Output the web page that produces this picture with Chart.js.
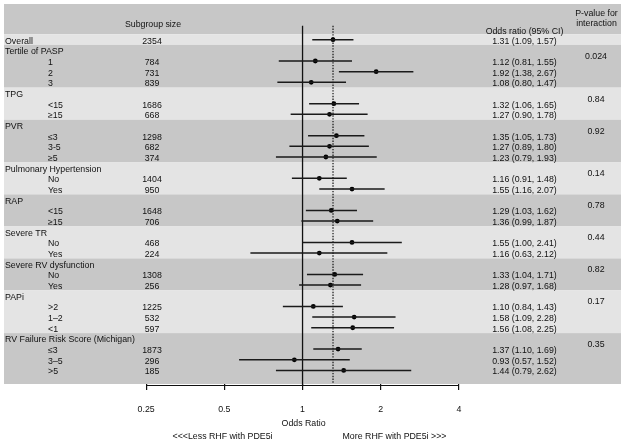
<!DOCTYPE html>
<html>
<head>
<meta charset="utf-8">
<script src="https://cdn.jsdelivr.net/npm/chart.js"></script>
<style>
  html, body { margin: 0; padding: 0; background: #fff; }
  #wrap { width: 625px; height: 445px; }
</style>
</head>
<body>
<div id="wrap"><canvas id="forest" width="625" height="445"></canvas></div>
<script>
// rows, top to bottom. indent 0 = group heading, 1 = subgroup
const rowLabels = ['Overall', 'Tertile of PASP', '1', '2', '3', 'TPG', '<15', '\u226515',
  'PVR', '\u22643', '3-5', '\u22655', 'Pulmonary Hypertension', 'No', 'Yes', 'RAP', '<15', '\u226515',
  'Severe TR', 'No', 'Yes', 'Severe RV dysfunction', 'No', 'Yes', 'PAPi', '>2', '1\u20132', '<1',
  'RV Failure Risk Score (Michigan)', '\u22643', '3\u20135', '>5'];
const rowIndent = [0, 0, 1, 1, 1, 0, 1, 1, 0, 1, 1, 1, 0, 1, 1, 0, 1, 1, 0, 1, 1, 0, 1, 1, 0, 1, 1, 1, 0, 1, 1, 1];
const subgroupSize = [2354, null, 784, 731, 839, null, 1686, 668, null, 1298, 682, 374, null, 1404, 950,
  null, 1648, 706, null, 468, 224, null, 1308, 256, null, 1225, 532, 597, null, 1873, 296, 185];
const oddsRatio = [1.31, null, 1.12, 1.92, 1.08, null, 1.32, 1.27, null, 1.35, 1.27, 1.23, null, 1.16, 1.55,
  null, 1.29, 1.36, null, 1.55, 1.16, null, 1.33, 1.28, null, 1.10, 1.58, 1.56, null, 1.37, 0.93, 1.44];
const ciLow = [1.09, null, 0.81, 1.38, 0.80, null, 1.06, 0.90, null, 1.05, 0.89, 0.79, null, 0.91, 1.16,
  null, 1.03, 0.99, null, 1.00, 0.63, null, 1.04, 0.97, null, 0.84, 1.09, 1.08, null, 1.10, 0.57, 0.79];
const ciHigh = [1.57, null, 1.55, 2.67, 1.47, null, 1.65, 1.78, null, 1.73, 1.80, 1.93, null, 1.48, 2.07,
  null, 1.62, 1.87, null, 2.41, 2.12, null, 1.71, 1.68, null, 1.43, 2.28, 2.25, null, 1.69, 1.52, 2.62];
// p-value for interaction, on the group heading rows
const pInteraction = [null, '0.024', null, null, null, '0.84', null, null, '0.92', null, null, null, '0.14', null, null,
  '0.78', null, null, '0.44', null, null, '0.82', null, null, '0.17', null, null, null, '0.35', null, null, null];
const xTicks = [0.25, 0.5, 1, 2, 4];

const DARK = '#c7c7c7';
const LIGHT = '#e4e4e4';
const INK = '#111';
const FONT = '8.8px "Liberation Sans", Arial, sans-serif';

// whisker segments, broken by null points
const ciPoints = [];
const orPoints = [];
oddsRatio.forEach((v, i) => {
  if (v == null) return;
  ciPoints.push({x: ciLow[i], y: i}, {x: ciHigh[i], y: i}, {x: ciHigh[i], y: null});
  orPoints.push({x: v, y: i});
});

const forestDecor = {
  id: 'forestDecor',
  beforeDatasetsDraw(chart) {
    const {ctx, chartArea: a, scales: {x, y}} = chart;
    ctx.save();
    // header band
    ctx.fillStyle = DARK;
    ctx.fillRect(a.left, a.top, a.width, y.getPixelForValue(-0.5) - a.top);
    // alternating group bands
    const starts = [];
    rowIndent.forEach((v, i) => { if (v === 0) starts.push(i); });
    starts.forEach((s, k) => {
      const top = y.getPixelForValue(s - 0.5);
      const bot = k + 1 < starts.length ? y.getPixelForValue(starts[k + 1] - 0.5) : a.bottom;
      ctx.fillStyle = k % 2 === 0 ? LIGHT : DARK;
      ctx.fillRect(a.left, top, a.width, bot - top);
    });

    const lineTop = y.getPixelForValue(-1.3);
    const axisY = a.bottom + 1.5;
    // no-effect line
    ctx.strokeStyle = INK;
    ctx.lineWidth = 1.3;
    const x1 = x.getPixelForValue(1);
    ctx.beginPath();
    ctx.moveTo(x1, lineTop);
    ctx.lineTo(x1, axisY);
    ctx.stroke();
    // overall estimate, dotted
    const xo = x.getPixelForValue(oddsRatio[0]);
    ctx.setLineDash([1.4, 1.4]);
    ctx.lineWidth = 1.2;
    ctx.beginPath();
    ctx.moveTo(xo, lineTop);
    ctx.lineTo(xo, a.bottom);
    ctx.stroke();
    ctx.setLineDash([]);
    // axis line between the outer ticks
    ctx.lineWidth = 1.2;
    ctx.beginPath();
    ctx.moveTo(x.getPixelForValue(xTicks[0]), axisY);
    ctx.lineTo(x.getPixelForValue(xTicks[xTicks.length - 1]), axisY);
    ctx.stroke();
    ctx.restore();
  },
  afterDraw(chart) {
    const {ctx, scales: {x, y}} = chart;
    ctx.save();
    ctx.font = FONT;
    ctx.fillStyle = INK;
    ctx.textBaseline = 'middle';
    const ty = (r) => y.getPixelForValue(r) + 1.5;

    // headers
    ctx.textAlign = 'center';
    ctx.fillText('Subgroup size', 153, 25);
    ctx.fillText('Odds ratio (95% CI)', 524.5, 32);
    ctx.fillText('P-value for', 596.5, 13.3);
    ctx.fillText('interaction', 596.5, 24);

    rowLabels.forEach((lab, i) => {
      ctx.textAlign = 'left';
      ctx.fillText(lab, rowIndent[i] ? 48 : 5, ty(i));
      ctx.textAlign = 'center';
      if (subgroupSize[i] != null) ctx.fillText(String(subgroupSize[i]), 152, ty(i));
      if (oddsRatio[i] != null) {
        const s = oddsRatio[i].toFixed(2) + ' (' + ciLow[i].toFixed(2) + ', ' + ciHigh[i].toFixed(2) + ')';
        ctx.fillText(s, 524.5, ty(i));
      }
      if (pInteraction[i] != null) ctx.fillText(pInteraction[i], 596, ty(i + 0.45));
    });

    // axis captions
    const x1 = x.getPixelForValue(1);
    ctx.textAlign = 'center';
    ctx.fillText('Odds Ratio', x1 + 1, 424);
    ctx.textAlign = 'right';
    ctx.fillText('<<<Less RHF with PDE5i', x1 - 30, 437);
    ctx.textAlign = 'left';
    ctx.fillText('More RHF with PDE5i >>>', x1 + 40, 437);
    ctx.restore();
  }
};

new Chart(document.getElementById('forest'), {
  type: 'scatter',
  data: {
    datasets: [
      {
        type: 'line',
        data: ciPoints,
        borderColor: '#1a1a1a',
        borderWidth: 1.5,
        pointRadius: 0,
        spanGaps: false,
        fill: false
      },
      {
        data: orPoints,
        backgroundColor: '#000',
        borderWidth: 0,
        pointRadius: 2.4
      }
    ]
  },
  options: {
    responsive: false,
    animation: false,
    events: [],
    layout: { padding: { top: 2, left: 3, right: 4, bottom: 0 } },
    plugins: { legend: { display: false }, tooltip: { enabled: false } },
    scales: {
      x: {
        type: 'logarithmic',
        bounds: 'data',
        min: 0.07097,
        max: 16.81,
        afterBuildTicks: (s) => { s.ticks = xTicks.map(v => ({value: v})); },
        afterFit: (s) => { s.height = 61; },
        border: { display: false },
        grid: { display: true, drawOnChartArea: false, drawTicks: true, tickLength: 6, color: INK, lineWidth: 1.2 },
        ticks: {
          autoSkip: false,
          maxRotation: 0,
          padding: 14,
          color: INK,
          font: { family: '"Liberation Sans", Arial, sans-serif', size: 8.8 },
          callback: (v) => String(v)
        }
      },
      y: {
        type: 'linear',
        display: false,
        reverse: true,
        min: -3.34,
        max: 32.27
      }
    }
  },
  plugins: [forestDecor]
});
</script>
</body>
</html>
